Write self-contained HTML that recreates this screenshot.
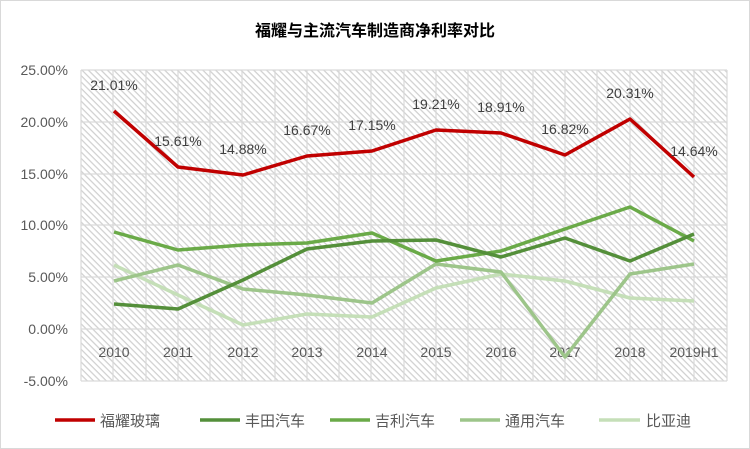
<!DOCTYPE html>
<html><head><meta charset="utf-8"><style>body{margin:0;background:#fff}svg{display:block}text{font-family:"Liberation Sans","Noto Sans CJK SC",sans-serif}</style></head><body>
<svg width="750" height="449" viewBox="0 0 750 449">
<defs><pattern id="h" width="4.5" height="4.5" patternUnits="userSpaceOnUse" patternTransform="rotate(45)"><rect width="5" height="5" fill="#fff"/><line x1="0" y1="0.5" x2="5" y2="0.5" stroke="#d0d0d0" stroke-width="1.5"/></pattern></defs>
<rect x="0.5" y="0.5" width="749" height="448" fill="#fff" stroke="#d9d9d9"/>
<text x="375" y="36" text-anchor="middle" font-size="16" font-weight="bold" fill="#000">福耀与主流汽车制造商净利率对比</text>
<rect x="81" y="70" width="646" height="311" fill="url(#h)"/>
<g stroke="#d9d9d9" stroke-width="1.2">
<line x1="81" y1="70" x2="727" y2="70"/><line x1="81" y1="122" x2="727" y2="122"/><line x1="81" y1="174" x2="727" y2="174"/><line x1="81" y1="225" x2="727" y2="225"/><line x1="81" y1="277" x2="727" y2="277"/><line x1="81" y1="329" x2="727" y2="329"/><line x1="81" y1="381" x2="727" y2="381"/>
<line x1="81" y1="70" x2="81" y2="381"/><line x1="113" y1="70" x2="113" y2="381"/><line x1="146" y1="70" x2="146" y2="381"/><line x1="178" y1="70" x2="178" y2="381"/><line x1="210" y1="70" x2="210" y2="381"/><line x1="242" y1="70" x2="242" y2="381"/><line x1="275" y1="70" x2="275" y2="381"/><line x1="307" y1="70" x2="307" y2="381"/><line x1="339" y1="70" x2="339" y2="381"/><line x1="371" y1="70" x2="371" y2="381"/><line x1="404" y1="70" x2="404" y2="381"/><line x1="436" y1="70" x2="436" y2="381"/><line x1="468" y1="70" x2="468" y2="381"/><line x1="501" y1="70" x2="501" y2="381"/><line x1="533" y1="70" x2="533" y2="381"/><line x1="565" y1="70" x2="565" y2="381"/><line x1="597" y1="70" x2="597" y2="381"/><line x1="630" y1="70" x2="630" y2="381"/><line x1="662" y1="70" x2="662" y2="381"/><line x1="694" y1="70" x2="694" y2="381"/><line x1="727" y1="70" x2="727" y2="381"/>
</g>
<g font-size="14" fill="#595959" text-anchor="end">
<text x="68" y="75">25.00%</text><text x="68" y="127">20.00%</text><text x="68" y="179">15.00%</text><text x="68" y="230">10.00%</text><text x="68" y="282">5.00%</text><text x="68" y="334">0.00%</text><text x="68" y="386">-5.00%</text>
</g>
<g font-size="14" fill="#595959" text-anchor="middle">
<text x="114" y="357">2010</text><text x="178" y="357">2011</text><text x="243" y="357">2012</text><text x="307" y="357">2013</text><text x="372" y="357">2014</text><text x="436" y="357">2015</text><text x="501" y="357">2016</text><text x="565" y="357">2017</text><text x="630" y="357">2018</text><text x="694" y="357">2019H1</text>
</g>
<g fill="none" stroke-width="3.5" stroke-linejoin="round">
<polyline stroke="#c5dfb8" points="114,265 178,295 243,325 307,314 372,317 436,288 501,274 565,281 630,298 694,301"/>
<polyline stroke="#9dc58a" points="114,281 178,265 243,289 307,295 372,303 436,264 501,272 565,357 630,274 694,264"/>
<polyline stroke="#6aaa48" points="114,232 178,250 243,245 307,243 372,233 436,261 501,251 565,229 630,207 694,241"/>
<polyline stroke="#548f3a" points="114,304 178,309 243,280 307,249 372,241 436,240 501,257 565,238 630,261 694,234"/>
<polyline stroke="#c00000" points="114,111 178,167 243,175 307,156 372,151 436,130 501,133 565,155 630,119 694,177"/>
</g>
<g font-size="14" fill="#404040" text-anchor="middle">
<text x="114" y="90">21.01%</text><text x="178" y="146">15.61%</text><text x="243" y="154">14.88%</text><text x="307" y="135">16.67%</text><text x="372" y="130">17.15%</text><text x="436" y="109">19.21%</text><text x="501" y="112">18.91%</text><text x="565" y="134">16.82%</text><text x="630" y="98">20.31%</text><text x="694" y="156">14.64%</text>
</g>
<g stroke-width="3.5">
<line x1="55" y1="420" x2="95" y2="420" stroke="#c00000"/>
<line x1="200" y1="420" x2="240" y2="420" stroke="#548f3a"/>
<line x1="330" y1="420" x2="370" y2="420" stroke="#6aaa48"/>
<line x1="460" y1="420" x2="500" y2="420" stroke="#9dc58a"/>
<line x1="599" y1="420" x2="640" y2="420" stroke="#c5dfb8"/>
</g>
<g font-size="15" fill="#595959">
<text x="100" y="426">福耀玻璃</text><text x="245" y="426">丰田汽车</text><text x="375" y="426">吉利汽车</text><text x="505" y="426">通用汽车</text><text x="646" y="426">比亚迪</text>
</g>
</svg>
</body></html>
